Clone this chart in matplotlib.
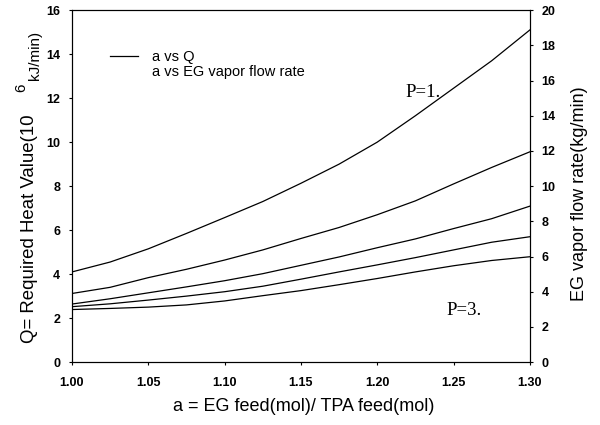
import matplotlib
matplotlib.use('Agg')
import matplotlib.pyplot as plt

plt.rcParams['font.family'] = ['Liberation Sans', 'DejaVu Sans']

# a = EG feed / TPA feed
a_vals = [1.000, 1.025, 1.050, 1.075, 1.100, 1.125, 1.150,
          1.175, 1.200, 1.225, 1.250, 1.275, 1.300]

# Q curves (10^6 kJ/min), from P=1 (top) down to P=3 (bottom)
q_c1 = [4.10, 4.55, 5.15, 5.85, 6.57, 7.30, 8.13, 9.00, 10.0, 11.2, 12.45, 13.7, 15.1]
q_c2 = [3.12, 3.40, 3.84, 4.22, 4.64, 5.10, 5.62, 6.12, 6.70, 7.33, 8.10, 8.85, 9.56]
q_c3 = [2.64, 2.88, 3.15, 3.42, 3.70, 4.02, 4.40, 4.78, 5.20, 5.60, 6.07, 6.52, 7.09]
q_c4 = [2.52, 2.65, 2.82, 3.00, 3.20, 3.45, 3.77, 4.10, 4.42, 4.75, 5.10, 5.45, 5.70]
q_c5 = [2.39, 2.44, 2.50, 2.60, 2.78, 3.02, 3.25, 3.52, 3.80, 4.10, 4.38, 4.62, 4.79]

x_ticks = [1.00, 1.05, 1.10, 1.15, 1.20, 1.25, 1.30]
left_ticks = [0, 2, 4, 6, 8, 10, 12, 14, 16]
right_ticks = [0, 2, 4, 6, 8, 10, 12, 14, 16, 18, 20]

TICK_FS = 9
LABEL_FS = 13

fig = plt.figure(figsize=(6, 4.25), dpi=100)
ax = fig.add_axes([0.12, 0.148, 0.763, 0.828])

for i, q in enumerate([q_c1, q_c2, q_c3, q_c4, q_c5]):
    ax.plot(a_vals, q, color='black', linewidth=0.9,
            label='a vs Q' if i == 0 else None)

ax.set_xlim(1.00, 1.30)
ax.set_ylim(0, 16)
ax.set_xticks(x_ticks)
ax.set_xticklabels([f'{v:.2f}' for v in x_ticks])
ax.set_yticks(left_ticks)
ax.tick_params(axis='x', direction='out', length=2.5, width=0.8, pad=8,
               labelsize=TICK_FS)
ax.tick_params(axis='y', direction='out', length=2.5, width=0.8, pad=6,
               labelsize=TICK_FS)
for lab in ax.get_xticklabels() + ax.get_yticklabels():
    lab.set_fontweight('bold')

ax2 = ax.twinx()
ax2.set_ylim(0, 20)
ax2.set_yticks(right_ticks)
ax2.tick_params(direction='out', length=2.5, width=0.8, pad=6, labelsize=TICK_FS)
for lab in ax2.get_yticklabels():
    lab.set_fontweight('bold')

ax.set_xlabel('a = EG feed(mol)/ TPA feed(mol)', fontsize=LABEL_FS, va='top')
ax.xaxis.set_label_coords(0.505, -0.102)

# left label, with the odd superscript/offset as in the original
fig.text(29.5 / 600, 1 - 343 / 425, 'Q= Required Heat Value(10', rotation=90,
         ha='center', va='bottom', fontsize=13.4)
fig.text(21 / 600, 1 - 92 / 425, '6', rotation=90,
         ha='center', va='bottom', fontsize=11)
fig.text(35 / 600, 1 - 80 / 425, 'kJ/min)', rotation=90,
         ha='center', va='bottom', fontsize=11)
fig.text(580 / 600, 1 - 194 / 425, 'EG vapor flow rate(kg/min)', rotation=90,
         ha='center', va='center', fontsize=LABEL_FS)

# legend (second entry has no visible line)
ax.plot([], [], color='none', label='a vs EG vapor flow rate')
ax.legend(loc='upper left', bbox_to_anchor=(0.083, 0.886), frameon=False,
          fontsize=10.5, handlelength=1.9, handletextpad=1.0, labelspacing=0.08,
          borderpad=0, borderaxespad=0)

ax.text(1.2188, 12.05, 'P=1.', family='Liberation Serif', fontsize=13.5)
ax.text(1.2456, 2.14, 'P=3.', family='Liberation Serif', fontsize=13.5)

fig.savefig('out.png', dpi=100)
